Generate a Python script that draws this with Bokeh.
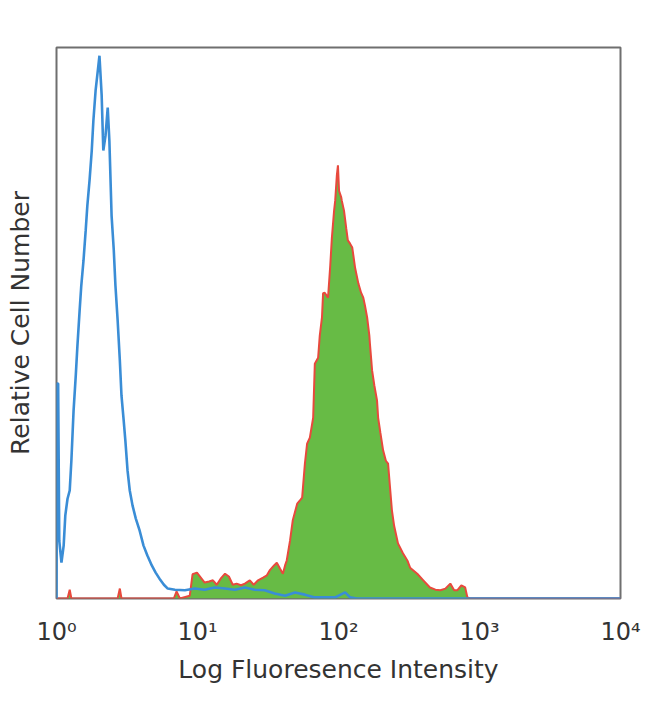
import numpy as np
from bokeh.plotting import figure
from bokeh.models import FixedTicker
from bokeh.embed import file_html
from bokeh.resources import INLINE

# Flow-cytometry histograms: 1024 channels over 4 log decades
tick_values = [1, 10, 100, 1000, 10000]
tick_labels = ["10⁰", "10¹", "10²", "10³", "10⁴"]

# Isotype control (blue outline)
blue_channel = [0, 1, 3, 5, 9, 13, 16, 20, 24, 27, 31, 35, 38, 42, 45, 49, 53, 56, 60, 64,
                67, 71, 75, 78, 82, 85, 89, 93, 96, 100, 104, 107, 111, 115, 118, 122, 125, 129,
                133, 138, 144, 151, 158, 165, 173, 180, 187, 195, 202, 215, 233, 251, 269, 287,
                306, 324, 342, 360, 378, 396, 415, 433, 451, 469, 506, 524, 533, 545, 1024]
blue_count = [0, 39.0, 39.0, 10.5, 6.5, 9.6, 15.1, 18.1, 19.6, 25.0, 34.1, 40.5, 45.9, 52.3,
              56.8, 61.3, 66.8, 71.3, 75.9, 81.3, 86.8, 92.2, 95.8, 98.5, 91.3, 81.3, 84.0, 89.1,
              83.1, 69.5, 63.2, 56.8, 50.5, 43.2, 36.8, 32.3, 28.7, 23.2, 19.6, 16.9, 14.5, 12.3,
              9.6, 7.8, 6.0, 4.7, 3.6, 2.5, 1.8, 1.6, 1.5, 1.8, 1.6, 2.0, 1.8, 1.6, 2.0, 1.6,
              1.5, 0.9, 0.5, 1.1, 0.7, 0.2, 0.2, 1.1, 0.2, 0, 0]

# Stained sample (green fill, red outline)
green_channel = [0, 20, 24, 27, 111, 115, 118, 213, 218, 224, 242, 247, 255, 262, 269, 277, 284,
                 291, 298, 306, 313, 320, 327, 335, 342, 351, 358, 366, 375, 382, 387, 395, 400,
                 406, 411, 415, 418, 424, 429, 437, 442, 446, 451, 455, 460, 466, 469, 475, 478,
                 482, 484, 487, 493, 497, 500, 504, 506, 509, 511, 513, 517, 518, 522, 526, 529,
                 533, 537, 542, 548, 553, 557, 560, 564, 568, 569, 573, 577, 582, 584, 588, 593,
                 598, 602, 606, 609, 613, 620, 629, 637, 642, 655, 666, 678, 688, 697, 706, 715,
                 722, 728, 735, 742, 746, 751, 1024]
green_count = [0, 0, 1.6, 0, 0, 1.8, 0, 0, 1.3, 0, 0.5, 4.4, 4.7, 3.8, 2.9, 3.1, 3.3, 2.5, 3.6,
               4.5, 4.0, 2.5, 2.7, 2.4, 2.7, 3.3, 2.5, 3.3, 3.8, 4.2, 5.1, 6.0, 6.5, 5.4, 4.5,
               6.0, 6.9, 10.5, 14.2, 17.2, 17.8, 18.3, 24.5, 28.1, 29.2, 32.8, 42.6, 43.7, 47.7,
               51.0, 55.4, 55.5, 54.6, 60.4, 65.5, 70.4, 72.2, 76.8, 78.6, 74.0, 72.8, 72.2, 70.4,
               67.2, 65.0, 64.4, 63.7, 60.1, 57.2, 55.5, 54.6, 53.2, 51.0, 47.7, 46.3, 41.4, 38.7,
               35.9, 32.8, 30.1, 26.9, 25.0, 24.5, 19.6, 16.0, 13.2, 10.0, 8.2, 6.9, 5.6, 4.5,
               3.3, 2.0, 1.6, 1.5, 1.8, 2.7, 1.5, 1.5, 2.4, 2.0, 0.2, 0, 0]

blue_x = 10 ** (np.array(blue_channel) * 4 / 1024)
green_x = 10 ** (np.array(green_channel) * 4 / 1024)

FONT = "DejaVu Sans"
TEXT = "#333333"

p = figure(width=642, height=696, x_axis_type="log", x_range=(1, 10000), y_range=(0, 100),
           output_backend="svg", toolbar_location=None,
           min_border_left=56, min_border_right=22, min_border_top=47, min_border_bottom=98)
p.background_fill_color = "white"
p.border_fill_color = "white"
p.grid.visible = False
p.outline_line_color = "#6f6f6f"
p.outline_line_width = 2

p.varea(x=green_x, y1=0, y2=green_count, fill_color="#67bb45", fill_alpha=1.0)
p.line(green_x, green_count, line_color="#e8493d", line_width=2)
p.line(blue_x, blue_count, line_color="#3a8dd6", line_width=2.6)

xa = p.xaxis[0]
xa.ticker = FixedTicker(ticks=tick_values)
xa.major_label_overrides = {v: s for v, s in zip(tick_values, tick_labels)}
xa.axis_line_color = None
xa.major_tick_line_color = None
xa.minor_tick_line_color = None
xa.major_label_text_font = FONT
xa.major_label_text_font_size = "24px"
xa.major_label_text_color = TEXT
xa.major_label_standoff = 13
xa.axis_label = "Log Fluoresence Intensity"
xa.axis_label_text_font = FONT
xa.axis_label_text_font_size = "25px"
xa.axis_label_text_font_style = "normal"
xa.axis_label_text_color = TEXT
xa.axis_label_standoff = 6

ya = p.yaxis[0]
ya.ticker = FixedTicker(ticks=[])
ya.axis_line_color = None
ya.major_tick_line_color = None
ya.minor_tick_line_color = None
ya.axis_label = "Relative Cell Number"
ya.axis_label_text_font = FONT
ya.axis_label_text_font_size = "25px"
ya.axis_label_text_font_style = "normal"
ya.axis_label_text_color = TEXT
ya.axis_label_standoff = 22

open("out.html", "w").write(file_html(p, INLINE))
